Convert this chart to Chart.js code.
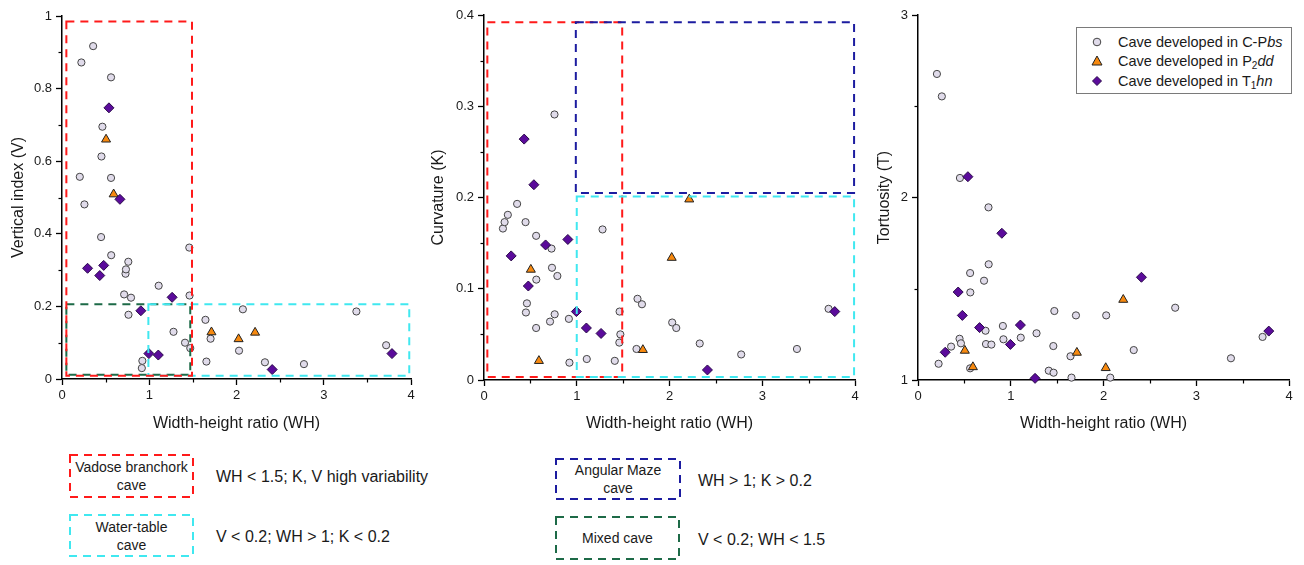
<!DOCTYPE html>
<html>
<head>
<meta charset="utf-8">
<script src="https://cdn.jsdelivr.net/npm/chart.js@4.4.1/dist/chart.umd.min.js"></script>
<style>
  body { margin: 0; background: #fff; width: 1304px; height: 565px; overflow: hidden; position: relative;
         font-family: Arial, "Liberation Sans", sans-serif; color: #1a1a1a; }
  canvas { position: absolute; top: 0; }
  #legend { position: absolute; left: 1076px; top: 27px; width: 214px; height: 65px; border: 1px solid #7a7a7a;
            background: #fff; font-size: 14.5px; }
  #legend .row { position: absolute; left: 0; height: 18px; line-height: 18px; white-space: nowrap; }
  #legend svg { position: absolute; left: 14px; top: 3px; }
  #legend span { position: absolute; left: 41px; }
  #legend sub { font-size: 10px; vertical-align: -3px; line-height: 0; }
  .box { position: absolute; }
  .box svg { position: absolute; left: 0; top: 0; }
  .box div { position: absolute; left: 0; top: 0; width: 100%; height: 100%; display: flex; align-items: center;
             justify-content: center; text-align: center; font-size: 14px; line-height: 18px; }
  .note { position: absolute; font-size: 16px; white-space: nowrap; line-height: 18px; }
</style>
</head>
<body>
<canvas id="chartV" width="425" height="440" style="left:0px"></canvas>
<canvas id="chartK" width="450" height="440" style="left:420px"></canvas>
<canvas id="chartT" width="434" height="440" style="left:870px"></canvas>

<div id="legend">
  <div class="row" style="top:5px">
    <svg width="12" height="12"><circle cx="6" cy="6" r="3.8" fill="#e0dbea" stroke="#444" stroke-width="1"/></svg>
    <span>Cave developed in C-P<i>bs</i></span>
  </div>
  <div class="row" style="top:24px">
    <svg width="12" height="12"><polygon points="6,1 11,10 1,10" fill="#f7890f" stroke="#222" stroke-width="1"/></svg>
    <span>Cave developed in P<sub>2</sub><i>dd</i></span>
  </div>
  <div class="row" style="top:44px">
    <svg width="12" height="12"><polygon points="6,1.5 10.5,6 6,10.5 1.5,6" fill="#5b0b9b" stroke="#2a0a4a" stroke-width="1"/></svg>
    <span>Cave developed in T<sub>1</sub><i>hn</i></span>
  </div>
</div>

<div class="box" style="left:69px;top:454px;width:125px;height:44px">
  <svg width="125" height="44"><rect x="1" y="1" width="123" height="42" fill="none" stroke="#ff1a1a" stroke-width="2" stroke-dasharray="8,6"/></svg>
  <div>Vadose branchork<br>cave</div>
</div>
<div class="note" style="left:216px;top:468px">WH &lt; 1.5; K, V high variability</div>

<div class="box" style="left:69px;top:514px;width:125px;height:43px">
  <svg width="125" height="43"><rect x="1" y="1" width="123" height="41" fill="none" stroke="#40e8f0" stroke-width="2" stroke-dasharray="8,6"/></svg>
  <div>Water-table<br>cave</div>
</div>
<div class="note" style="left:216px;top:528px">V &lt; 0.2; WH &gt; 1; K &lt; 0.2</div>

<div class="box" style="left:555px;top:458px;width:126px;height:42px">
  <svg width="126" height="42"><rect x="1" y="1" width="124" height="40" fill="none" stroke="#1c1ca0" stroke-width="2" stroke-dasharray="8,6"/></svg>
  <div>Angular Maze<br>cave</div>
</div>
<div class="note" style="left:698px;top:472px">WH &gt; 1; K &gt; 0.2</div>

<div class="box" style="left:555px;top:516px;width:125px;height:44px">
  <svg width="125" height="44"><rect x="1" y="1" width="123" height="42" fill="none" stroke="#1d6a47" stroke-width="2" stroke-dasharray="8,6"/></svg>
  <div>Mixed cave</div>
</div>
<div class="note" style="left:698px;top:531px">V &lt; 0.2; WH &lt; 1.5</div>

<script>
// caves developed in C-Pbs (circles)
const cpbsWH = [0.204, 0.222, 0.257, 0.357, 0.448, 0.452, 0.463, 0.562, 0.562, 0.564, 0.712,
                0.728, 0.733, 0.760, 0.762, 0.791, 0.915, 0.921, 1.108, 1.278, 1.410, 1.459,
                1.462, 1.470, 1.644, 1.655, 1.703, 2.029, 2.073, 2.326, 2.773, 3.374, 3.715];
const cpbsV = [0.557, 0.872, 0.481, 0.917, 0.391, 0.613, 0.695, 0.831, 0.554, 0.341, 0.233,
               0.290, 0.302, 0.323, 0.177, 0.224, 0.030, 0.050, 0.257, 0.130, 0.100, 0.362,
               0.230, 0.085, 0.163, 0.048, 0.111, 0.078, 0.192, 0.046, 0.041, 0.186, 0.093];
const cpbsK = [0.166, 0.173, 0.181, 0.193, 0.173, 0.074, 0.084, 0.158, 0.057, 0.110, 0.064,
               0.144, 0.123, 0.291, 0.072, 0.114, 0.067, 0.019, 0.023, 0.165, 0.021, 0.041,
               0.075, 0.050, 0.034, 0.089, 0.083, 0.063, 0.057, 0.040, 0.028, 0.034, 0.078];
const cpbsT = [2.677, 1.089, 2.554, 1.183, 1.226, 2.107, 1.201, 1.586, 1.064, 1.480, 1.544,
               1.270, 1.197, 1.946, 1.634, 1.194, 1.296, 1.223, 1.232, 1.256, 1.051, 1.186,
               1.040, 1.378, 1.130, 1.013, 1.354, 1.354, 1.013, 1.164, 1.396, 1.119, 1.236];

// caves developed in P2dd (triangles)
const p2ddWH = [0.505, 0.592, 1.713, 2.024, 2.213];
const p2ddV = [0.660, 0.509, 0.129, 0.110, 0.128];
const p2ddK = [0.121, 0.021, 0.033, 0.134, 0.198];
const p2ddT = [1.161, 1.071, 1.150, 1.066, 1.440];

// caves developed in T1hn (diamonds)
const t1hnWH = [0.293, 0.433, 0.478, 0.538, 0.664, 0.904, 0.996, 1.104, 1.262, 2.409, 3.782];
const t1hnV = [0.305, 0.285, 0.313, 0.747, 0.495, 0.188, 0.070, 0.066, 0.225, 0.026, 0.070];
const t1hnK = [0.136, 0.264, 0.103, 0.214, 0.148, 0.154, 0.075, 0.057, 0.051, 0.011, 0.075];
const t1hnT = [1.152, 1.482, 1.354, 2.114, 1.287, 1.804, 1.195, 1.301, 1.009, 1.563, 1.268];

// cave type zones [WH from, WH to, value from, value to]
const vadoseZoneV = [0.05, 1.49, 0.009, 0.985];
const mixedZoneV = [0.05, 1.47, 0.012, 0.206];
const waterZoneV = [0.99, 3.98, 0.009, 0.206];
const vadoseZoneK = [0.036, 1.49, 0.0033, 0.392];
const mazeZoneK = [0.99, 3.99, 0.205, 0.392];
const waterZoneK = [1.0, 3.99, 0.0033, 0.201];

const RED = '#ff1a1a', BLUE = '#1c1ca0', CYAN = '#40e8f0', GREEN = '#1d6a47';

Chart.defaults.font.family = 'Arial, "Liberation Sans", sans-serif';
Chart.defaults.color = '#1a1a1a';

function pts(xs, ys) {
    return xs.map((x, i) => ({ x: x, y: ys[i] }));
}

// plain tick text: 0, 0.2 ... 1 (no trailing zeros)
function tickText(v) {
    return String(Math.round(v * 100) / 100);
}

function zonePlugin(zones) {
    return {
        id: 'zones',
        afterDatasetsDraw(chart) {
            const { ctx, scales: { x, y } } = chart;
            zones.forEach(z => {
                const [x0, x1, y0, y1] = z.range;
                const left = x.getPixelForValue(x0), right = x.getPixelForValue(x1);
                const top = y.getPixelForValue(y1), bottom = y.getPixelForValue(y0);
                ctx.save();
                ctx.strokeStyle = z.color;
                ctx.lineWidth = 2;
                ctx.setLineDash([8, 6]);
                ctx.strokeRect(left, top, right - left, bottom - top);
                ctx.restore();
            });
        }
    };
}

function minorTickPlugin(xStep, yStep) {
    return {
        id: 'minorTicks',
        afterDraw(chart) {
            const { ctx, scales: { x, y } } = chart;
            ctx.save();
            ctx.strokeStyle = '#000';
            ctx.lineWidth = 1.2;
            for (let v = x.min + xStep / 2; v < x.max; v += xStep) {
                const px = Math.round(x.getPixelForValue(v)) + 0.5;
                ctx.beginPath();
                ctx.moveTo(px, x.top);
                ctx.lineTo(px, x.top + 3.5);
                ctx.stroke();
            }
            for (let v = y.min + yStep / 2; v < y.max; v += yStep) {
                const py = Math.round(y.getPixelForValue(v)) + 0.5;
                ctx.beginPath();
                ctx.moveTo(y.right, py);
                ctx.lineTo(y.right - 3.5, py);
                ctx.stroke();
            }
            ctx.restore();
        }
    };
}

function makeChart(id, cfg) {
    const datasets = [
        { label: 'Cave developed in C-Pbs', data: pts(cpbsWH, cfg.c), pointStyle: 'circle', pointRadius: 3.6,
          backgroundColor: '#e0dbea', borderColor: '#444', borderWidth: 1, order: 3 },
        { label: 'Cave developed in P2dd', data: pts(p2ddWH, cfg.p), pointStyle: 'triangle', pointRadius: 5.2,
          backgroundColor: '#f7890f', borderColor: '#222', borderWidth: 1, order: 2 },
        { label: 'Cave developed in T1hn', data: pts(t1hnWH, cfg.t), pointStyle: 'rectRot', pointRadius: 5,
          backgroundColor: '#5b0b9b', borderColor: '#2a0a4a', borderWidth: 1, order: 1 }
    ];
    datasets.forEach(d => { d.clip = false; d.pointHoverRadius = d.pointRadius; });

    const axisCommon = {
        type: 'linear',
        grid: { display: true, drawOnChartArea: false, drawTicks: true, tickLength: 6, tickColor: '#000', tickWidth: 1.3 },
        border: { display: true, color: '#000', width: 1.5 }
    };

    return new Chart(document.getElementById(id), {
        type: 'scatter',
        data: { datasets: datasets },
        options: {
            responsive: false,
            animation: false,
            events: [],
            layout: { padding: { top: cfg.padTop, right: cfg.padRight, left: 0, bottom: 0 } },
            plugins: { legend: { display: false }, tooltip: { enabled: false } },
            scales: {
                x: Object.assign({}, axisCommon, {
                    min: 0, max: 4,
                    ticks: { stepSize: 1, autoSkip: false, maxRotation: 0, padding: 3, font: { size: 13 }, color: '#1a1a1a',
                             callback: tickText },
                    title: { display: true, text: 'Width-height ratio (WH)', font: { size: 16 }, color: '#1a1a1a',
                             padding: { top: 0, bottom: 7 } },
                    afterFit: s => { s.height = cfg.xHeight; }
                }),
                y: Object.assign({}, axisCommon, {
                    min: cfg.yMin, max: cfg.yMax,
                    ticks: { stepSize: cfg.yStep, autoSkip: false, padding: 4, font: { size: 13 }, color: '#1a1a1a',
                             callback: tickText },
                    title: { display: true, text: cfg.yTitle, font: { size: 16 }, color: '#1a1a1a',
                             padding: { top: cfg.titlePad, bottom: 0 } },
                    afterFit: s => { s.width = cfg.yWidth; }
                })
            }
        },
        plugins: [minorTickPlugin(1, cfg.yStep), zonePlugin(cfg.zones || [])]
    });
}

makeChart('chartV', {
    c: cpbsV, p: p2ddV, t: t1hnV,
    yMin: 0, yMax: 1, yStep: 0.2, yTitle: 'Vertical index (V)',
    padTop: 16, padRight: 14, xHeight: 61, yWidth: 62, titlePad: 9,
    zones: [
        { range: mixedZoneV, color: GREEN },
        { range: waterZoneV, color: CYAN },
        { range: vadoseZoneV, color: RED }
    ]
});

makeChart('chartK', {
    c: cpbsK, p: p2ddK, t: t1hnK,
    yMin: 0, yMax: 0.4, yStep: 0.1, yTitle: 'Curvature (K)',
    padTop: 15, padRight: 15, xHeight: 60, yWidth: 64, titlePad: 9.4,
    zones: [
        { range: vadoseZoneK, color: RED },
        { range: waterZoneK, color: CYAN },
        { range: mazeZoneK, color: BLUE }
    ]
});

makeChart('chartT', {
    c: cpbsT, p: p2ddT, t: t1hnT,
    yMin: 1, yMax: 3, yStep: 1, yTitle: 'Tortuosity (T)',
    padTop: 15, padRight: 15, xHeight: 60, yWidth: 48, titlePad: 5.4
});
</script>
</body>
</html>
